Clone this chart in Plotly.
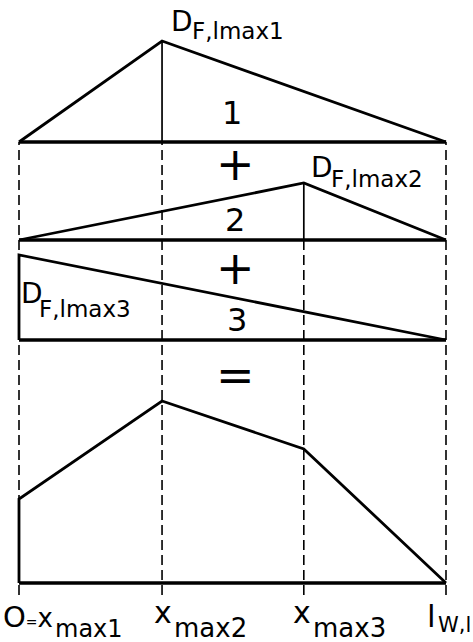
import plotly.graph_objects as go

FONT = "DejaVu Sans"
INK = "#000000"

# ---------------- data ----------------
# Stations along the span, as fractions of l_W,l
x_stations = [0.0, 0.335, 0.667, 1.0]
station_main = ["<span style='font-size:29px'>O</span><span style='font-size:14px'>=</span>x",
                "x", "x", "l"]
station_sub = ["max1", "max2", "max3", "W,l"]

# Partial diagrams (vertex stations and ordinates)
part1_x = [0.0, 0.335, 1.0]
part1_d = [0, 101, 0]
part2_x = [0.0, 0.667, 1.0]
part2_d = [0, 57, 0]
part3_x = [0.0, 0.0, 1.0]
part3_d = [0, 85, 0]

# Resulting diagram (superposition of 1 + 2 + 3)
total_x = [0.0, 0.0, 0.335, 0.667, 1.0]
total_d = [0, 84, 182, 134, 0]

part_names = ["1", "2", "3"]
peak_sub = ["F,lmax1", "F,lmax2", "F,lmax3"]
operators = ["+", "+", "="]

# ---------------- layout constants ----------------
W, H = 473, 642
X0_PX, X1_PX = 19, 446            # where x = 0 and x = 1 sit on the page
SPAN_PX = X1_PX - X0_PX
base = [500, 402, 302, 59]        # baselines of the four strips (y units = px)
guide_bottom = 47
guide_top_strip = [0, 0, 1, 0]    # strip whose baseline each guide starts from

fig = go.Figure()

# dashed projection lines
gx, gy = [], []
for xs, top in zip(x_stations, guide_top_strip):
    gx += [xs, xs, None]
    gy += [guide_bottom, base[top], None]
fig.add_trace(go.Scatter(x=gx, y=gy, mode="lines",
                         line=dict(color=INK, width=1.6, dash="10px,5px")))

parts = [(part1_x, part1_d), (part2_x, part2_d), (part3_x, part3_d)]

# thin verticals under each peak
vx, vy = [], []
for (px, pd), b in zip(parts, base[:3]):
    i = max(range(len(pd)), key=lambda k: pd[k])
    vx += [px[i], px[i], None]
    vy += [b, b + pd[i], None]
fig.add_trace(go.Scatter(x=vx, y=vy, mode="lines",
                         line=dict(color=INK, width=1.7)))

# outlines of the partial diagrams and of the sum
for (px, pd), b in zip(parts, base[:3]):
    fig.add_trace(go.Scatter(x=px, y=[b + d for d in pd], mode="lines",
                             line=dict(color=INK, width=2.8)))
fig.add_trace(go.Scatter(x=total_x, y=[base[3] + d for d in total_d], mode="lines",
                         line=dict(color=INK, width=2.8)))

# base lines
bx, by = [], []
for b in base:
    bx += [x_stations[0], x_stations[-1], None]
    by += [b, b, None]
fig.add_trace(go.Scatter(x=bx, y=by, mode="lines",
                         line=dict(color=INK, width=3.6)))


def text(x, y, s, size, xanchor="center", xshift=0, baseline=True):
    # with baseline=True, y is the text baseline; DejaVu's box centre lies
    # about 0.346 em above it
    yc = y + 0.346 * size if baseline else y
    return dict(x=x, y=yc, text=s, xanchor=xanchor, yanchor="middle",
                xshift=xshift, showarrow=False, borderpad=0,
                font=dict(family=FONT, size=size, color=INK))


ann = []

# peak labels D_F,lmax i  (offsets in px relative to the peak)
peak_offsets = [dict(dx=8, db=10, sx=29, sb=2),
                dict(dx=6, db=6, sx=26, sb=-4),
                dict(dx=1, db=-48, sx=19, sb=-62)]
for (px, pd), b, sub, o in zip(parts, base[:3], peak_sub, peak_offsets):
    i = max(range(len(pd)), key=lambda k: pd[k])
    top = b + pd[i]
    ann.append(text(px[i], top + o["db"], "D", 28, "left", o["dx"]))
    ann.append(text(px[i], top + o["sb"], sub, 23, "left", o["sx"]))

# strip numbers
num_pos = [(0.499, 29), (0.506, 20), (0.51, 20)]
for name, (xn, dy), b in zip(part_names, num_pos, base[:3]):
    ann.append(text(xn, b + dy, name, 32, baseline=False))

# + + =
op_y = [478, 374, 267]
op_size = [46, 46, 46]
for op, yo, fs in zip(operators, op_y, op_size):
    ann.append(text(0.506, yo, op, fs, baseline=False))

# station labels along the bottom
station_fmt = [dict(split=35, mb=16, ms=26, sb=5, ss=24),
               dict(split=11, mb=19, ms=30, sb=5, ss=26),
               dict(split=8, mb=19, ms=30, sb=5, ss=26),
               dict(split=-9, mb=15, ms=31, sb=10, ss=21)]
for xs, m, s, f in zip(x_stations, station_main, station_sub, station_fmt):
    ann.append(text(xs, f["mb"], m, f["ms"], "right", f["split"]))
    ann.append(text(xs, f["sb"], s, f["ss"], "left", f["split"]))

fig.update_layout(
    width=W, height=H,
    margin=dict(l=0, r=0, t=0, b=0),
    paper_bgcolor="white", plot_bgcolor="white",
    showlegend=False,
    annotations=ann,
    xaxis=dict(range=[-X0_PX / SPAN_PX, (W - X0_PX) / SPAN_PX],
               visible=False, fixedrange=True),
    yaxis=dict(range=[0, H], visible=False, fixedrange=True),
)

fig.write_html("out.html")
